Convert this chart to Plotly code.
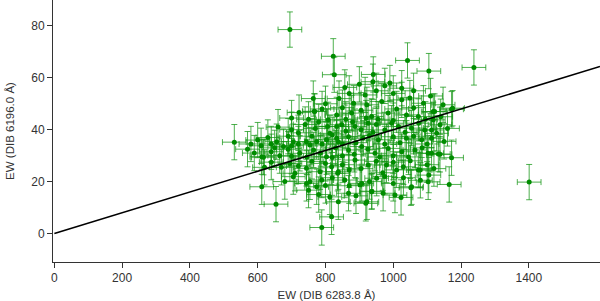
import plotly.graph_objects as go

# EW (DIB 6283.8 Å) values
ew_6283 = [
    695, 823, 826, 941, 1042, 1105, 1238, 857, 764, 722, 767, 531, 656, 617, 612, 654, 818, 789, 838, 919,
    937, 1005, 1023, 1052, 1105, 1165, 1172, 1175, 1138, 870, 902, 750, 1074, 1010, 969, 836, 789, 754, 710, 1401,
    975, 1025, 917, 883, 922, 966, 1025, 1049, 1089, 900, 950, 1000, 1060, 840, 800, 1110, 940, 870, 990,
    833, 877, 936, 985, 1039, 1074, 1118, 768, 808, 1147, 1122, 1172, 1118, 750, 790, 860, 905, 955, 1010, 1060,
    1095, 700, 1000, 920, 850, 1140,
    806, 833, 848, 887, 926, 975, 1015, 1054, 1093, 1138, 1113, 813, 700, 740, 770, 860, 905, 950, 995, 1035,
    1075, 1128, 660, 720, 780, 940, 1160, 880,
    705, 744, 774, 803, 833, 868, 911, 956, 1000, 1039, 1084, 838, 1113, 754, 676, 600, 630, 640, 690, 720,
    760, 790, 820, 850, 890, 930, 975, 1020, 1060, 1100, 1150, 580, 610, 700,
    612, 724, 765, 803, 868, 907, 946, 985, 1025, 1064, 1103, 1113, 1133, 590, 640, 665, 690, 745, 785, 830,
    850, 885, 925, 960, 1000, 1045, 1085, 650, 700, 820, 570,
    695, 744, 784, 818, 887, 926, 980, 1030, 1079, 838, 640, 670, 760, 800, 850, 870, 905, 950, 1000, 1050,
    1100, 720, 620, 1120,
    705, 744, 774, 857, 907, 951, 1000, 1054, 1103, 680, 820, 930, 975, 1030, 1080, 800,
    813, 868, 936, 922, 780, 890, 970,
]

# EW (DIB 6196.0 Å) values
ew_6196 = [
    78.6, 68.3, 61.2, 61.3, 66.7, 62.6, 64.0, 56.3, 52.0, 46.6, 47.1, 35.2, 35.4, 29.4, 18.0, 11.3, 6.4, 2.3, 12.2, 11.6,
    16.3, 14.8, 13.9, 17.6, 22.5, 18.9, 29.2, 48.3, 30.5, 18.4, 18.7, 16.7, 24.5, 24.5, 23.4, 23.2, 20.6, 19.9, 23.2, 19.8,
    56.9, 56.0, 53.4, 50.2, 49.6, 50.9, 51.5, 52.2, 50.2, 57.5, 55.0, 54.0, 55.0, 52.0, 50.0, 53.0, 58.5, 54.0, 58.0,
    45.7, 46.4, 45.1, 46.4, 45.7, 45.1, 47.0, 47.0, 43.8, 49.6, 47.0, 47.9, 43.8, 44.0, 48.0, 44.0, 47.5, 44.0, 48.0, 48.5,
    44.0, 44.5, 43.5, 44.5, 48.5, 45.0,
    41.2, 41.2, 41.9, 41.2, 42.5, 39.9, 41.2, 40.6, 39.9, 41.9, 39.9, 38.6, 40.0, 42.0, 40.5, 39.5, 40.0, 42.0, 42.5, 39.0,
    42.5, 38.6, 41.0, 38.8, 43.0, 39.0, 40.5, 43.0,
    35.4, 35.4, 35.4, 36.1, 36.7, 37.3, 36.7, 36.1, 37.3, 36.7, 36.1, 35.4, 36.7, 34.1, 33.5, 36.0, 37.0, 34.5, 37.5, 34.5,
    37.5, 34.5, 38.0, 34.5, 35.0, 37.8, 34.5, 35.0, 37.5, 34.5, 35.5, 34.5, 33.8, 33.8,
    29.6, 30.9, 32.2, 29.6, 32.2, 33.5, 30.9, 32.8, 31.5, 32.2, 30.9, 30.9, 30.6, 31.0, 31.5, 30.0, 32.5, 29.5, 31.0, 33.0,
    30.0, 30.5, 32.5, 29.5, 30.0, 29.5, 33.0, 33.0, 29.8, 29.3, 32.5,
    27.0, 25.1, 23.8, 25.7, 28.3, 26.4, 26.4, 25.7, 24.5, 23.8, 27.5, 25.5, 27.8, 27.0, 26.5, 24.5, 25.0, 27.8, 27.5, 28.0,
    26.5, 26.0, 25.5, 25.0,
    21.9, 19.3, 18.0, 20.6, 19.3, 21.3, 19.3, 18.0, 19.9, 20.0, 21.5, 20.0, 22.0, 21.5, 20.5, 18.5,
    14.1, 15.5, 16.1, 12.2, 15.0, 14.5, 15.5,
]

err_6283 = 35   # x uncertainty
err_6196 = 6.8  # y uncertainty

fit_x = [0, 1610]
fit_slope = 0.04
fit_y = [fit_slope * v for v in fit_x]

x_ticks = [0, 200, 400, 600, 800, 1000, 1200, 1400]
y_ticks = [0, 20, 40, 60, 80]

FONT = "Liberation Sans, Arial, sans-serif"

fig = go.Figure()
fig.add_trace(go.Scatter(
    x=ew_6283, y=ew_6196, mode="markers",
    marker=dict(color="rgb(0,140,0)", size=5),
    error_x=dict(type="constant", value=err_6283, color="rgba(20,150,20,0.75)", thickness=1, width=3),
    error_y=dict(type="constant", value=err_6196, color="rgba(20,150,20,0.75)", thickness=1, width=3),
    showlegend=False,
))
fig.add_trace(go.Scatter(
    x=fit_x, y=fit_y, mode="lines",
    line=dict(color="black", width=1.6), showlegend=False,
))

axis_common = dict(
    showgrid=False, zeroline=False, showline=True, linecolor="#333", linewidth=1,
    ticks="outside", ticklen=5, tickcolor="#333", automargin=False,
    tickfont=dict(family=FONT, size=12, color="#333"),
)
fig.update_xaxes(range=[-4, 1610], tickvals=x_ticks, **axis_common,
                 title=dict(text="EW (DIB 6283.8 Å)", standoff=6,
                            font=dict(family=FONT, size=11.5, color="#333")))
fig.update_yaxes(range=[-11, 90], tickvals=y_ticks, **axis_common,
                 title=dict(text="EW (DIB 6196.0 Å)", standoff=14,
                            font=dict(family=FONT, size=11.5, color="#333")))
fig.update_layout(
    width=600, height=301,
    margin=dict(l=53, r=0, t=0, b=39),
    plot_bgcolor="white", paper_bgcolor="white",
)
fig.write_html("out.html", config={"displayModeBar": False},
               post_script="document.body.style.margin='0px';")
